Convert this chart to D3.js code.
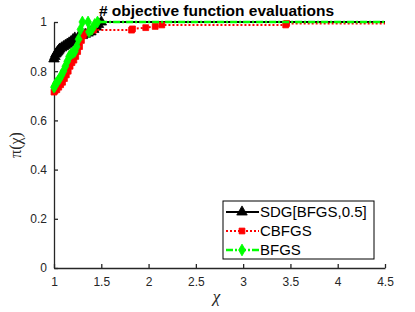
<!DOCTYPE html>
<html>
<head>
<meta charset="utf-8">
<script src="https://cdn.jsdelivr.net/npm/d3@7"></script>
<style>
  html, body { margin: 0; padding: 0; background: #fff; }
  svg { display: block; }
</style>
</head>
<body>
<div id="chart"></div>
<script>
// ---- data ----
const seriesNames = ["SDG[BFGS,0.5]", "CBFGS", "BFGS"];

const sdgX = [1.00, 1.01, 1.02, 1.03, 1.04, 1.05, 1.06, 1.08, 1.10, 1.12, 1.14, 1.16, 1.18, 1.20, 1.22, 1.26, 1.30, 1.33, 1.36, 1.39, 1.42, 1.45, 1.47, 1.50, 4.50];
const sdgY = [0.850, 0.860, 0.870, 0.875, 0.880, 0.885, 0.890, 0.895, 0.900, 0.905, 0.910, 0.915, 0.920, 0.928, 0.935, 0.940, 0.945, 0.950, 0.955, 0.960, 0.970, 0.980, 0.990, 1.000, 1.000];

const cbfgsX = [1.00, 1.01, 1.03, 1.05, 1.07, 1.09, 1.11, 1.13, 1.15, 1.17, 1.19, 1.21, 1.23, 1.25, 1.27, 1.29, 1.31, 1.34, 1.38, 1.42, 1.82, 1.83, 1.97, 2.07, 2.14, 3.45, 3.46, 4.50];
const cbfgsY = [0.715, 0.720, 0.725, 0.735, 0.745, 0.755, 0.770, 0.785, 0.800, 0.820, 0.835, 0.845, 0.860, 0.880, 0.900, 0.925, 0.945, 0.955, 0.962, 0.967, 0.967, 0.972, 0.977, 0.982, 0.988, 0.988, 0.994, 0.994];

const bfgsX = [1.00, 1.01, 1.02, 1.04, 1.06, 1.08, 1.10, 1.12, 1.14, 1.16, 1.18, 1.20, 1.22, 1.24, 1.26, 1.28, 1.30, 1.36, 1.37, 1.40, 1.43, 1.46, 4.50];
const bfgsY = [0.735, 0.740, 0.750, 0.760, 0.770, 0.785, 0.800, 0.820, 0.840, 0.860, 0.870, 0.875, 0.880, 0.900, 0.930, 0.970, 1.000, 1.000, 0.960, 0.970, 0.990, 1.000, 1.000];

const xTicks = [1, 1.5, 2, 2.5, 3, 3.5, 4, 4.5];
const xTickLabels = ["1", "1.5", "2", "2.5", "3", "3.5", "4", "4.5"];
const yTicks = [0, 0.2, 0.4, 0.6, 0.8, 1];
const yTickLabels = ["0", "0.2", "0.4", "0.6", "0.8", "1"];

const titleText = "# objective function evaluations";
const xLabelText = "χ";
const yLabelText = "π(χ)";

// ---- layout ----
const W = 415, H = 312;
const mLeft = 54, mRight = 385, mTop = 22, mBottom = 268;
const axisColor = "#262626";

const svg = d3.select("#chart").append("svg")
  .attr("width", W).attr("height", H);

const x = d3.scaleLinear().domain([1, 4.5]).range([mLeft, mRight]);
const y = d3.scaleLinear().domain([0, 1]).range([mBottom, mTop]);

// axes (ticks pointing inward)
const xAxis = d3.axisBottom(x).tickValues(xTicks)
  .tickFormat((d, i) => xTickLabels[i]).tickSizeInner(-4).tickSizeOuter(0).tickPadding(9);
const yAxis = d3.axisLeft(y).tickValues(yTicks)
  .tickFormat((d, i) => yTickLabels[i]).tickSizeInner(-4).tickSizeOuter(0).tickPadding(7);

const gx = svg.append("g").attr("transform", `translate(0,${mBottom})`).call(xAxis);
const gy = svg.append("g").attr("transform", `translate(${mLeft},0)`).call(yAxis);
[gx, gy].forEach(g => {
  g.select(".domain").attr("stroke", axisColor).attr("stroke-width", 1.3);
  g.selectAll(".tick line").attr("stroke", axisColor).attr("stroke-width", 1.3);
  g.selectAll(".tick text").attr("fill", axisColor)
    .style("font-family", "'Liberation Sans', Arial, sans-serif").style("font-size", "12px");
});

// series definitions
const series = [
  { name: seriesNames[0], xs: sdgX, ys: sdgY, color: "#000000", dash: null, width: 2, marker: d3.symbolTriangle, msize: 48 },
  { name: seriesNames[1], xs: cbfgsX, ys: cbfgsY, color: "#ff0000", dash: "2,2", width: 2, marker: d3.symbolSquare, msize: 34 },
  { name: seriesNames[2], xs: bfgsX, ys: bfgsY, color: "#00ff00", dash: "7,2,2,2", width: 2.5, marker: d3.symbolDiamond, msize: 40 }
];

const line = d3.line().x(d => x(d[0])).y(d => y(d[1]));

series.forEach(s => {
  const pts = s.xs.map((v, i) => [v, s.ys[i]]);
  const g = svg.append("g");
  g.append("path").datum(pts)
    .attr("d", line)
    .attr("fill", "none")
    .attr("stroke", s.color)
    .attr("stroke-width", s.width)
    .attr("stroke-dasharray", s.dash);
  g.selectAll("path.m").data(pts.slice(0, -1)).enter().append("path")
    .attr("class", "m")
    .attr("transform", d => `translate(${x(d[0])},${y(d[1])})`)
    .attr("d", d3.symbol().type(s.marker).size(s.msize))
    .attr("fill", s.color)
    .attr("stroke", s.color)
    .attr("stroke-width", 0.8);
});

// title
svg.append("text")
  .attr("x", (mLeft + mRight) / 2 - 3).attr("y", 16)
  .attr("text-anchor", "middle")
  .style("font-family", "'Liberation Sans', Arial, sans-serif")
  .style("font-weight", "bold").style("font-size", "15.5px")
  .attr("fill", "#000")
  .text(titleText);

// x label
svg.append("text")
  .attr("x", (mLeft + mRight) / 2 - 3).attr("y", 302)
  .attr("text-anchor", "middle")
  .style("font-family", "'Liberation Serif', 'DejaVu Serif', serif")
  .style("font-style", "italic")
  .style("font-size", "17px")
  .attr("fill", axisColor)
  .text(xLabelText);

// y label
svg.append("text")
  .attr("transform", `translate(21,${(mTop + mBottom) / 2}) rotate(-90)`)
  .attr("text-anchor", "middle")
  .style("font-family", "'Liberation Serif', 'DejaVu Serif', serif")
  .style("font-size", "16px")
  .attr("fill", axisColor)
  .text(yLabelText);

// legend
const lg = { x0: 223, y0: 201, w: 151, h: 58 };
const legend = svg.append("g");
legend.append("rect")
  .attr("x", lg.x0).attr("y", lg.y0).attr("width", lg.w).attr("height", lg.h)
  .attr("fill", "#fff").attr("stroke", "#000").attr("stroke-width", 1);
series.forEach((s, i) => {
  const cy = lg.y0 + 11 + i * 19;
  legend.append("line")
    .attr("x1", lg.x0 + 3).attr("x2", lg.x0 + 36)
    .attr("y1", cy).attr("y2", cy)
    .attr("stroke", s.color).attr("stroke-width", s.width)
    .attr("stroke-dasharray", s.dash);
  legend.append("path")
    .attr("transform", `translate(${lg.x0 + 19},${cy})`)
    .attr("d", d3.symbol().type(s.marker).size(s.msize))
    .attr("fill", s.color).attr("stroke", s.color).attr("stroke-width", 0.8);
  legend.append("text")
    .attr("x", lg.x0 + 37).attr("y", cy)
    .attr("dy", "0.36em")
    .style("font-family", "'Liberation Sans', Arial, sans-serif")
    .style("font-size", "15px")
    .attr("fill", "#000")
    .text(s.name);
});
</script>
</body>
</html>
